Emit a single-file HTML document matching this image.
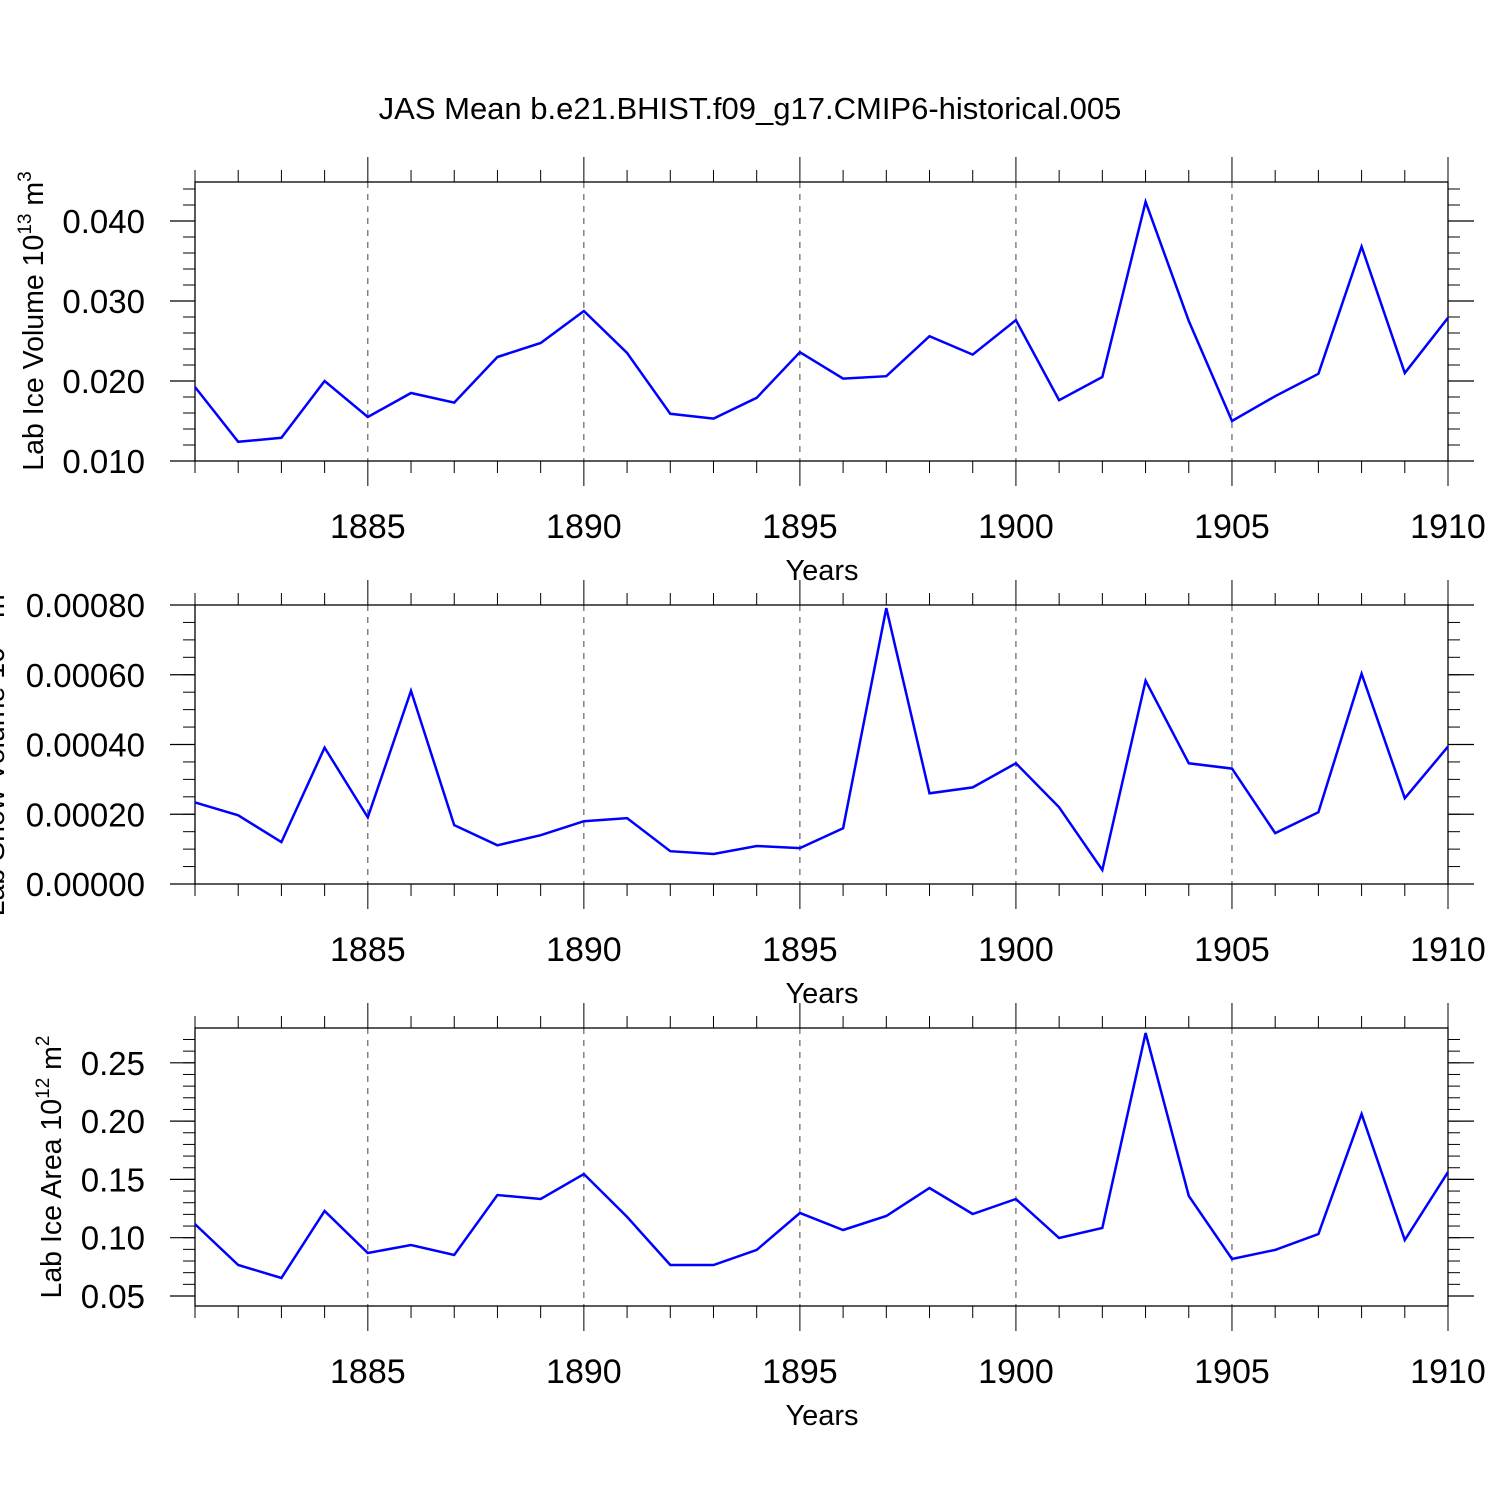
<!DOCTYPE html>
<html><head><meta charset="utf-8"><style>
html,body{margin:0;padding:0;background:#fff;}
svg{display:block;font-family:"Liberation Sans",sans-serif;}
</style></head><body>
<svg id="chart" width="1500" height="1500" viewBox="0 0 1500 1500">
<text x="750" y="119" text-anchor="middle" font-size="31">JAS Mean b.e21.BHIST.f09_g17.CMIP6-historical.005</text>
</svg>
<script>
const years = [1881,1882,1883,1884,1885,1886,1887,1888,1889,1890,1891,1892,1893,1894,1895,1896,1897,1898,1899,1900,1901,1902,1903,1904,1905,1906,1907,1908,1909,1910];
const iceVolume = [0.01925,0.0124,0.0129,0.0200,0.0155,0.0185,0.0173,0.0230,0.02475,0.02875,0.0235,0.0159,0.0153,0.0179,0.0236,0.0203,0.0206,0.0256,0.0233,0.0276,0.0176,0.0205,0.0424,0.0275,0.0150,0.0181,0.0209,0.0368,0.0210,0.0279];
const snowVolume = [0.000234,0.000197,0.000120,0.000391,0.000191,0.000554,0.000169,0.000111,0.000140,0.000180,0.000189,0.000094,0.000086,0.000109,0.000103,0.000160,0.000791,0.000260,0.000277,0.000346,0.000220,0.000040,0.000583,0.000346,0.000331,0.000146,0.000206,0.000603,0.000246,0.000394];
const iceArea = [0.1117,0.0766,0.0654,0.1229,0.0869,0.0937,0.0852,0.1366,0.1332,0.1546,0.1178,0.0766,0.0766,0.0895,0.1212,0.1066,0.1186,0.1426,0.1203,0.1332,0.0997,0.1083,0.2756,0.1358,0.0817,0.0895,0.1032,0.2061,0.0980,0.1563];
const xTickLabels = ["1885","1890","1895","1900","1905","1910"];
const yTicks1 = ["0.010","0.020","0.030","0.040"];
const yTicks2 = ["0.00000","0.00020","0.00040","0.00060","0.00080"];
const yTicks3 = ["0.05","0.10","0.15","0.20","0.25"];

const NS="http://www.w3.org/2000/svg";
const svg=document.getElementById('chart');
const X0=195,X1=1448,Y0=1881,Y1=1910;
function xs(y){return X0+(y-Y0)/(Y1-Y0)*(X1-X0);}
function mk(tag,attrs,parent){const e=document.createElementNS(NS,tag);for(const k in attrs)e.setAttribute(k,attrs[k]);(parent||svg).appendChild(e);return e;}

const panels=[
 {top:182,bot:461,data:iceVolume,ticks:yTicks1,minor:0.002,name:'ice-volume'},
 {top:605,bot:884,data:snowVolume,ticks:yTicks2,minor:0.00005,name:'snow-volume'},
 {top:1028,bot:1306,data:iceArea,ticks:yTicks3,minor:0.01,name:'ice-area'}
];
panels[0].vmin=0.010; panels[0].vmax=0.010+(461-182)/8000;
panels[1].vmin=0; panels[1].vmax=0.0008*(884-605)/279;
panels[2].vmin=0.05-10/58.3*0.05; panels[2].vmax=0.05+(1296-1028)/58.3*0.05;

panels.forEach((p,pi)=>{
  const g=mk('g',{});
  
  
  const ys=v=>p.bot-(v-p.vmin)/(p.vmax-p.vmin)*(p.bot-p.top);
  xTickLabels.forEach(t=>{
    const x=xs(+t);
    if(+t<Y1){const l=mk('line',{x1:x,x2:x,y1:p.top,y2:p.bot,stroke:'#444','stroke-width':1,'stroke-dasharray':'6,6'},g);
    
    }
  });
  const fr=mk('rect',{x:X0,y:p.top,width:X1-X0,height:p.bot-p.top,fill:'none',stroke:'#000','stroke-width':1.3},g);
  
  
  years.forEach(yr=>{
    const x=xs(yr),len=(yr%5===0)?25:12;
    mk('line',{x1:x,x2:x,y1:p.top,y2:p.top-len,stroke:'#000','stroke-width':1},g);
    mk('line',{x1:x,x2:x,y1:p.bot,y2:p.bot+len,stroke:'#000','stroke-width':1},g);
  });
  xTickLabels.forEach(t=>{
    const tx=mk('text',{x:xs(+t),y:p.bot+77,'text-anchor':'middle','font-size':34},g);
    tx.textContent=t;
    
    
  });
  const xt=mk('text',{x:822,y:p.bot+119,'text-anchor':'middle','font-size':29},g);
  xt.textContent='Years';
  
  
  const t0=+p.ticks[0];
  for(let k=-20;k<200;k++){
    const v=t0+k*p.minor;
    if(v<p.vmin-1e-12||v>p.vmax+1e-12)continue;
    const y=ys(v);
    mk('line',{x1:X0,x2:X0-12,y1:y,y2:y,stroke:'#000','stroke-width':1},g);
    mk('line',{x1:X1,x2:X1+12,y1:y,y2:y,stroke:'#000','stroke-width':1},g);
  }
  p.ticks.forEach(t=>{
    const y=ys(+t);
    mk('line',{x1:X0,x2:X0-25,y1:y,y2:y,stroke:'#000','stroke-width':1.2},g);
    mk('line',{x1:X1,x2:X1+26,y1:y,y2:y,stroke:'#000','stroke-width':1.2},g);
    const tx=mk('text',{x:145,y:y+12,'text-anchor':'end','font-size':33},g);
    tx.textContent=t;
    
    
  });
  const pts=years.map((yr,i)=>xs(yr).toFixed(1)+','+ys(p.data[i]).toFixed(1)).join(' ');
  const pl=mk('polyline',{points:pts,fill:'none',stroke:'#0000ff','stroke-width':2.5,'stroke-linejoin':'miter'},g);
  
  
});

function yTitle(cx,cy,main,exp,unit,uexp,name){
  const t=mk('text',{transform:`translate(${cx},${cy}) rotate(-90)`,'text-anchor':'middle','font-size':28.5});
  
  
  t.innerHTML=`${main} 10<tspan font-size="19" dy="-12">${exp}</tspan><tspan dy="12"> ${unit}</tspan><tspan font-size="19" dy="-12">${uexp}</tspan>`;
}
yTitle(43,321,'Lab Ice Volume','13','m','3','y-axis-title-ice-volume');
yTitle(4,750,'Lab Snow Volume','13','m','3','y-axis-title-snow-volume');
yTitle(61,1167,'Lab Ice Area','12','m','2','y-axis-title-ice-area');
</script>
</body></html>
